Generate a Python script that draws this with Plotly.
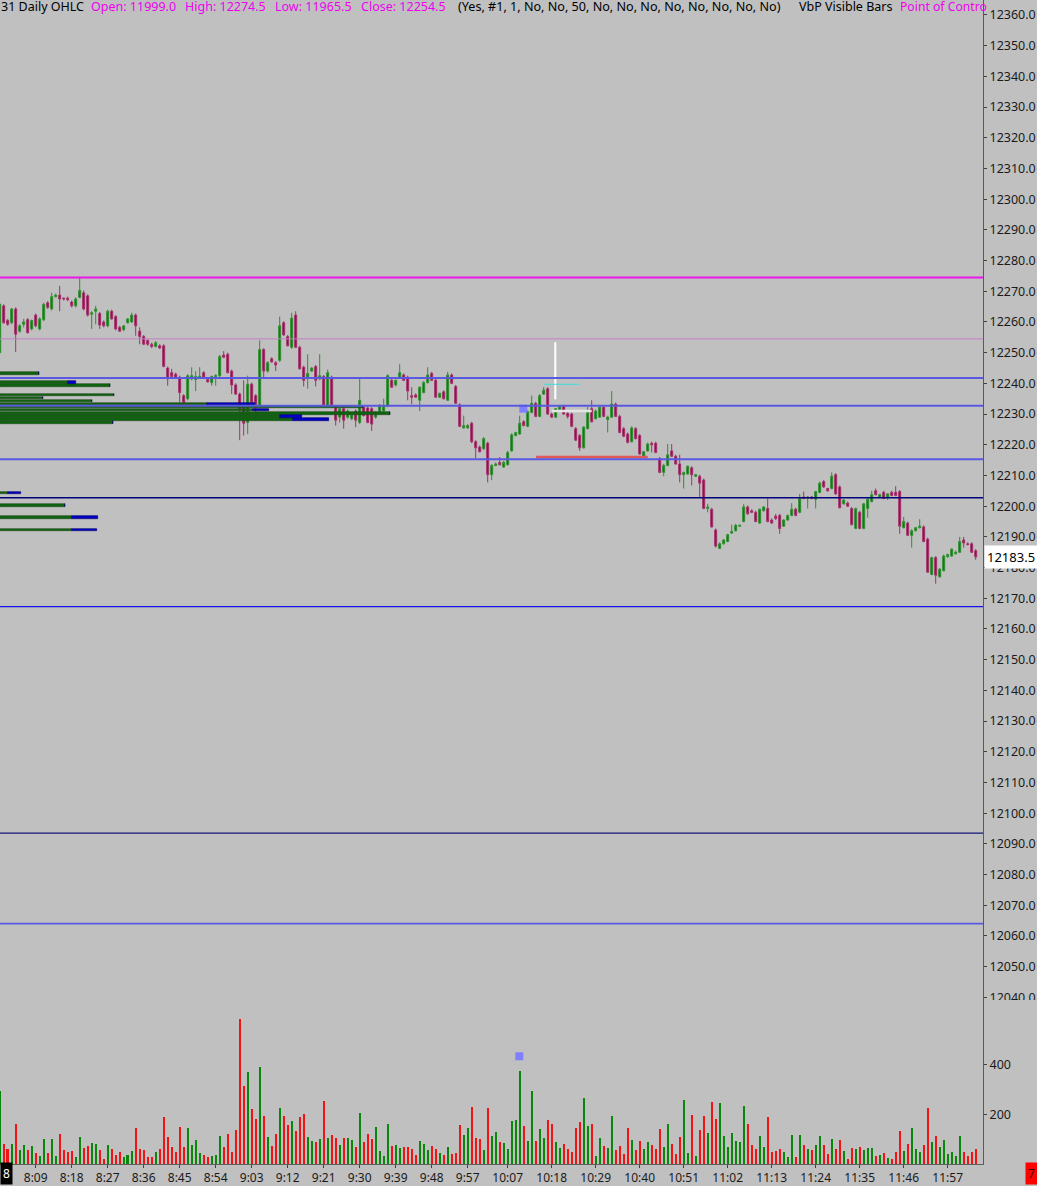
import plotly.graph_objects as go

# ---------------- data ----------------
opens = [12250.0,12265.25,12260.5,12259.75,12264.25,12257.0,12259.25,12260.75,12257.75,12262.25,
12257.75,12260.75,12266.25,12264.25,12268.25,12268.75,12267.75,12267.75,12266.5,12265.25,
12268.0,12269.5,12268.5,12262.5,12263.5,12262.75,12260.0,12258.75,12263.5,12261.75,
12258.25,12257.5,12259.75,12260.0,12262.25,12257.0,12255.25,12254.0,12252.75,12252.0,
12252.25,12252.25,12245.0,12243.5,12243.0,12242.0,12236.0,12235.0,12241.5,12241.25,
12242.0,12243.5,12241.25,12240.25,12242.25,12242.5,12249.25,12249.5,12244.0,12239.5,
12236.5,12232.75,12227.25,12239.75,12236.0,12232.75,12251.0,12244.0,12248.0,12246.75,
12247.5,12259.75,12255.25,12251.75,12262.25,12251.75,12245.25,12242.0,12244.0,12245.5,
12241.5,12242.25,12232.75,12242.0,12232.25,12229.0,12231.75,12229.0,12228.5,12231.0,
12227.25,12232.25,12232.0,12231.75,12229.0,12230.5,12231.0,12232.75,12241.0,12239.5,
12242.0,12242.75,12242.0,12236.0,12236.25,12234.5,12237.0,12240.25,12243.25,12241.0,
12235.5,12237.25,12234.5,12242.75,12239.0,12233.0,12225.5,12225.5,12227.0,12221.0,
12219.25,12218.75,12220.5,12210.25,12213.25,12214.25,12212.75,12213.5,12218.0,12223.0,
12223.5,12227.5,12226.0,12230.5,12233.5,12229.25,12236.5,12238.25,12230.0,12229.0,
12231.5,12232.5,12230.25,12230.0,12225.25,12223.0,12219.0,12225.25,12231.75,12228.5,
12229.0,12232.25,12228.25,12229.0,12233.25,12229.25,12225.25,12223.5,12221.0,12225.25,
12223.0,12216.25,12218.0,12220.5,12220.5,12215.5,12211.0,12213.25,12218.0,12216.25,
12213.75,12210.25,12210.5,12212.5,12209.75,12209.75,12208.5,12199.25,12199.0,12192.25,
12186.25,12187.75,12188.5,12191.25,12192.0,12193.5,12195.0,12199.75,12198.5,12198.0,
12194.5,12198.5,12199.25,12195.5,12196.75,12197.0,12193.5,12195.5,12197.0,12199.0,
12198.0,12203.0,12202.5,12203.0,12202.25,12204.5,12208.0,12205.75,12205.75,12210.25,
12206.25,12200.75,12201.0,12199.25,12192.75,12198.0,12192.75,12199.25,12201.5,12205.0,
12203.0,12204.5,12203.0,12204.5,12204.5,12204.75,12193.0,12194.5,12190.5,12192.0,
12193.0,12193.25,12189.25,12177.75,12183.25,12177.0,12179.0,12183.5,12183.75,12184.5,
12185.0,12189.0,12187.75,12187.75,12185.5]

highs = [12266.25,12265.75,12261.0,12264.5,12264.75,12259.25,12261.0,12261.25,12260.75,12262.75,
12261.5,12266.25,12266.75,12269.5,12269.25,12271.75,12268.0,12268.25,12267.0,12268.0,
12274.5,12270.25,12269.0,12263.5,12265.25,12263.25,12260.5,12264.0,12264.0,12262.25,
12258.75,12259.0,12261.25,12263.0,12262.75,12258.25,12255.75,12254.25,12253.25,12253.75,
12252.75,12252.75,12245.5,12244.75,12243.5,12242.5,12236.5,12243.0,12245.25,12244.0,
12245.25,12244.0,12241.75,12242.5,12243.0,12249.25,12250.5,12250.0,12244.5,12240.0,
12237.0,12241.0,12242.5,12240.25,12236.5,12254.0,12251.5,12247.25,12248.5,12247.25,
12261.75,12260.25,12255.75,12263.0,12263.5,12252.25,12245.75,12249.5,12245.25,12246.0,
12249.5,12242.75,12244.5,12242.5,12232.75,12232.0,12232.25,12231.5,12230.5,12231.5,
12241.5,12232.75,12232.5,12232.25,12231.0,12233.25,12235.0,12243.0,12241.5,12241.25,
12246.25,12243.25,12242.5,12238.75,12236.75,12239.0,12240.75,12245.25,12243.75,12241.5,
12237.0,12237.75,12243.75,12243.25,12239.5,12233.5,12229.5,12226.75,12227.5,12221.5,
12219.75,12222.5,12221.0,12213.75,12214.25,12216.0,12214.75,12218.0,12223.75,12224.25,
12229.5,12228.0,12231.25,12236.0,12234.0,12236.5,12238.75,12238.75,12230.5,12232.0,
12232.75,12233.0,12230.75,12230.5,12225.75,12223.5,12226.0,12232.25,12234.5,12231.5,
12232.5,12232.75,12229.5,12237.5,12233.75,12229.75,12225.75,12224.0,12226.0,12225.75,
12223.5,12218.0,12220.75,12221.0,12221.0,12216.0,12213.75,12220.25,12220.25,12216.75,
12216.75,12211.25,12213.25,12213.0,12210.5,12210.25,12209.0,12200.75,12199.5,12192.75,
12188.25,12189.25,12191.0,12194.0,12194.25,12194.0,12200.75,12200.25,12199.0,12198.5,
12199.25,12200.0,12202.5,12196.0,12197.5,12197.5,12195.75,12197.25,12201.0,12199.5,
12204.0,12204.75,12203.25,12203.25,12205.0,12208.0,12208.5,12206.0,12211.0,12210.75,
12206.75,12202.25,12201.5,12199.75,12199.5,12198.5,12201.0,12202.5,12205.0,12205.75,
12204.0,12205.0,12204.25,12205.0,12206.5,12205.25,12196.5,12195.0,12192.5,12193.25,
12195.75,12193.75,12189.75,12183.5,12183.75,12179.75,12184.25,12184.5,12186.25,12185.5,
12190.0,12190.0,12188.25,12188.25,12186.0]

lows = [12249.75,12259.5,12258.75,12259.25,12250.25,12256.5,12258.25,12256.25,12257.25,12258.25,
12257.25,12260.25,12264.25,12263.75,12268.0,12263.5,12267.0,12266.75,12264.75,12264.75,
12267.75,12263.75,12261.75,12257.75,12259.25,12257.75,12258.25,12258.25,12260.75,12257.25,
12256.75,12257.0,12259.5,12259.75,12255.5,12252.75,12252.5,12252.25,12251.5,12251.75,
12251.25,12245.25,12239.25,12241.5,12241.5,12233.75,12232.25,12234.5,12241.0,12237.5,
12241.5,12241.5,12240.25,12239.25,12239.25,12242.0,12248.25,12243.25,12236.5,12236.25,
12221.5,12223.0,12223.5,12233.5,12229.5,12232.25,12241.5,12243.5,12246.75,12244.0,
12247.0,12255.5,12252.0,12251.25,12251.5,12244.5,12239.0,12238.25,12243.75,12239.0,
12241.0,12232.5,12232.5,12232.5,12226.25,12227.25,12225.25,12228.5,12228.0,12225.75,
12226.75,12229.25,12227.0,12224.5,12228.5,12230.0,12230.5,12232.25,12238.5,12239.0,
12241.5,12240.75,12234.5,12233.25,12235.25,12231.0,12236.75,12240.0,12240.75,12235.25,
12235.25,12234.75,12234.25,12239.75,12233.25,12225.75,12225.25,12225.25,12220.5,12215.5,
12217.5,12218.25,12207.75,12208.5,12213.0,12213.25,12212.5,12213.25,12217.75,12222.75,
12223.25,12226.0,12225.75,12230.25,12229.0,12229.0,12236.25,12229.75,12228.75,12228.75,
12231.25,12229.75,12228.5,12225.75,12221.25,12218.0,12218.75,12225.0,12227.25,12228.25,
12228.75,12229.0,12224.0,12228.75,12229.0,12223.75,12222.5,12220.5,12220.75,12221.75,
12216.75,12216.0,12217.75,12217.5,12217.25,12210.75,12209.75,12213.0,12216.0,12213.5,
12207.75,12205.75,12210.25,12206.75,12209.5,12203.0,12199.0,12198.0,12193.0,12186.5,
12186.0,12187.5,12188.25,12191.0,12191.75,12193.25,12194.75,12197.25,12197.75,12194.75,
12194.25,12198.25,12194.75,12194.25,12195.5,12191.0,12193.25,12195.25,12196.75,12196.75,
12197.75,12202.25,12199.25,12202.25,12199.25,12204.25,12206.0,12204.75,12205.5,12203.75,
12199.25,12200.5,12199.75,12193.75,12192.5,12192.5,12192.5,12196.25,12201.25,12203.5,
12202.75,12202.25,12202.0,12203.25,12203.25,12191.0,12192.75,12190.25,12186.5,12191.75,
12192.75,12188.25,12178.25,12177.5,12174.75,12176.75,12178.75,12183.25,12183.5,12184.25,
12184.75,12186.5,12187.25,12184.75,12182.5]

closes = [12265.75,12259.75,12259.25,12264.25,12256.0,12258.75,12260.0,12256.5,12260.5,12258.75,
12261.0,12265.75,12264.75,12268.25,12268.75,12267.5,12267.5,12267.25,12265.25,12267.5,
12270.25,12264.25,12262.25,12263.0,12264.25,12259.0,12258.75,12263.5,12261.0,12257.75,
12257.0,12258.75,12261.0,12262.25,12258.75,12255.25,12252.75,12252.75,12252.0,12253.25,
12251.5,12245.5,12241.5,12242.25,12241.75,12237.0,12233.75,12242.5,12242.5,12242.25,
12242.25,12242.0,12240.5,12242.25,12242.5,12248.75,12248.5,12243.5,12239.5,12236.5,
12231.75,12227.0,12239.75,12233.75,12232.75,12251.0,12244.0,12246.75,12247.0,12246.0,
12258.75,12255.75,12252.25,12261.25,12251.75,12244.75,12241.0,12243.25,12245.0,12241.0,
12242.5,12232.75,12243.5,12232.75,12228.0,12231.75,12228.0,12231.0,12230.0,12228.0,
12234.5,12229.5,12227.25,12226.75,12230.5,12232.75,12232.75,12242.5,12238.75,12241.0,
12243.5,12241.0,12237.5,12235.5,12235.5,12238.75,12240.25,12242.75,12241.0,12235.5,
12236.75,12235.0,12242.75,12240.0,12233.5,12226.0,12226.25,12226.25,12221.0,12219.0,
12217.75,12222.0,12210.25,12213.25,12213.75,12213.5,12214.25,12217.5,12223.25,12224.0,
12227.0,12226.25,12230.75,12233.5,12229.25,12236.0,12237.75,12230.0,12229.0,12231.75,
12232.5,12230.0,12229.25,12226.0,12221.5,12219.0,12225.75,12230.5,12227.5,12231.0,
12232.25,12229.25,12229.0,12233.25,12229.25,12224.0,12222.75,12220.75,12225.5,12222.0,
12217.0,12217.75,12220.25,12220.0,12217.5,12211.0,12213.25,12216.75,12216.25,12213.75,
12210.25,12211.0,12213.0,12210.25,12210.25,12207.5,12199.25,12199.75,12193.25,12187.0,
12187.75,12189.0,12190.75,12191.75,12193.75,12193.75,12199.75,12197.5,12198.0,12195.0,
12199.0,12199.75,12195.0,12194.5,12196.0,12192.75,12195.5,12197.0,12199.0,12197.0,
12202.5,12202.5,12203.0,12202.5,12204.75,12207.5,12206.25,12205.0,12209.75,12204.0,
12199.5,12202.0,12200.0,12194.0,12199.25,12192.75,12200.75,12202.25,12203.75,12203.75,
12203.75,12202.5,12204.0,12203.5,12203.5,12193.5,12195.0,12190.5,12192.0,12193.0,
12193.5,12188.5,12178.5,12183.25,12177.5,12179.5,12183.75,12184.25,12186.0,12185.0,
12188.5,12188.0,12187.5,12185.0,12183.5]

volumes = [293,80,60,80,160,56,75,56,69,43,
29,97,44,97,29,119,56,47,51,25,
107,64,72,83,79,55,19,75,60,33,
45,25,33,51,143,59,53,27,27,45,
59,187,107,67,47,147,65,143,75,93,
43,33,25,31,33,111,65,119,47,135,
581,311,369,219,179,387,191,105,71,119,
223,189,156,171,131,187,197,107,89,87,
97,249,103,113,103,75,103,103,93,65,
203,87,119,99,147,49,31,159,71,73,
63,65,65,57,35,91,77,53,69,59,
41,35,67,39,41,153,113,143,227,103,
97,55,221,109,125,87,81,59,169,173,
371,151,91,293,91,137,103,175,159,87,
61,79,59,47,143,165,263,151,159,31,
103,71,63,189,55,71,37,143,95,55,
89,57,87,75,59,139,67,159,77,39,
107,253,43,195,31,135,189,121,247,179,
243,109,65,123,89,87,231,157,75,57,
109,67,187,45,49,59,45,25,115,27,
115,73,59,53,75,111,73,39,97,59,
95,49,19,61,59,67,55,63,63,29,
33,41,23,19,47,131,49,79,141,59,
47,73,221,87,109,67,95,37,45,29,
109,45,29,47,59]

bar_index = list(range(len(closes)))  # one-minute bars from 8:00

tick_bars = [9, 18, 27, 36, 45, 54, 63, 72, 81, 90, 99, 108, 117,
             127, 138, 149, 160, 171, 182, 193, 204, 215, 226, 237]
tick_text = ["8:09", "8:18", "8:27", "8:36", "8:45", "8:54", "9:03", "9:12", "9:21",
             "9:30", "9:39", "9:48", "9:57", "10:07", "10:18", "10:29", "10:40", "10:51",
             "11:02", "11:13", "11:24", "11:35", "11:46", "11:57"]

price_ticks = [12040 + 10 * i for i in range(33)]
vol_ticks = [200, 400]

# horizontal study levels
level_prices = [12274.5, 12254.5, 12241.75, 12232.75, 12215.25, 12202.75, 12167.25, 12093.5, 12064.0]
level_colors = ["#e818e8", "#c47ec4", "#5858e0", "#5858e0", "#5858e0", "#00007a",
                "#1414e6", "#14147a", "#5858e0"]
level_widths = [2, 1, 2, 2, 2, 1.3, 1.3, 1.3, 1.8]

# volume by price (visible bars) profile
vbp_price = [12243.25, 12240.25, 12239.25, 12236.25, 12235.25, 12234.25, 12233.25,
             12232.25, 12231.25, 12230.25, 12229.25, 12228.25, 12227.25,
             12204.25, 12200.25, 12196.25, 12192.25]
vbp_green = [39, 68, 110, 114, 43, 92, 207, 363, 253, 390, 280, 293, 113, 8, 65, 72, 72]
vbp_blue = [0, 8, 0, 0, 0, 0, 48, 0, 16, 0, 22, 36, 0, 13, 0, 26, 25]

# signal markers
signal_bar = [130.9]
signal_price = [12231.75]
vol_signal_bar = [129.9]
vol_signal = [432]

# drawn segments (bar index start/end, price start/end)
seg_x = [[138.9, 138.9], [136.1, 144.9], [138.0, 148.0], [134.1, 162.0]]
seg_y = [[12253.4, 12234.8], [12239.7, 12239.7], [12231.0, 12231.0], [12216.0, 12216.0]]
seg_colors = ["#ffffff", "#3cdcdc", "#e4e4e4", "#e05858"]
seg_widths = [2, 1, 2.5, 2.5]

last_price = 12183.5

# ---------------- figure ----------------
BG = "#c0c0c0"
UP_FILL, UP_LINE = "#077a07", "#2f8f2f"
DN_FILL, DN_LINE = "#9a0048", "#a3306a"

W, H = 1037, 1186
PLOT_W, PLOT_H = 983, 1167
split = (PLOT_H - 1003) / PLOT_H

fig = go.Figure()

fig.add_trace(go.Candlestick(
    x=bar_index, open=opens, high=highs, low=lows, close=closes,
    xaxis="x", yaxis="y", whiskerwidth=0,
    increasing=dict(line=dict(color=UP_LINE, width=1), fillcolor=UP_FILL),
    decreasing=dict(line=dict(color=DN_LINE, width=1), fillcolor=DN_FILL),
    hoverinfo="skip", showlegend=False))

# volume profile
fig.add_trace(go.Bar(
    y=vbp_price, x=vbp_green, orientation="h", xaxis="x2", yaxis="y", width=0.8,
    marker=dict(color="#0d640d", line=dict(color="#244a24", width=0.6)),
    hoverinfo="skip", showlegend=False))
fig.add_trace(go.Bar(
    y=vbp_price, x=vbp_blue, base=vbp_green, orientation="h", xaxis="x2", yaxis="y", width=0.8,
    marker=dict(color="#0000c8", line=dict(color="#00006a", width=0.6)),
    hoverinfo="skip", showlegend=False))

# segments
for xs, ys, c, w in zip(seg_x, seg_y, seg_colors, seg_widths):
    fig.add_trace(go.Scatter(x=xs, y=ys, mode="lines", xaxis="x", yaxis="y",
                             line=dict(color=c, width=w), hoverinfo="skip", showlegend=False))

fig.add_trace(go.Scatter(x=signal_bar, y=signal_price, mode="markers", xaxis="x", yaxis="y",
                         marker=dict(symbol="square", size=8, color="#8080ff"),
                         hoverinfo="skip", showlegend=False))

vol_colors = ["#0a870a" if c >= o else "#f01414" for o, c in zip(opens, closes)]
fig.add_trace(go.Bar(x=bar_index, y=volumes, xaxis="x", yaxis="y2", width=0.5,
                     marker=dict(color=vol_colors, line=dict(width=0)),
                     hoverinfo="skip", showlegend=False))
fig.add_trace(go.Scatter(x=vol_signal_bar, y=vol_signal, mode="markers", xaxis="x", yaxis="y2",
                         marker=dict(symbol="square", size=8, color="#8080ff"),
                         hoverinfo="skip", showlegend=False))

shapes = []
for p, c, w in zip(level_prices, level_colors, level_widths):
    shapes.append(dict(type="line", xref="paper", x0=0, x1=1, yref="y", y0=p, y1=p,
                       line=dict(color=c, width=w), layer="above"))
# mask lower half of the clipped 12040 label (pane boundary)
shapes.append(dict(type="rect", xref="paper", x0=984 / PLOT_W, x1=W / PLOT_W,
                   yref="paper", y0=(PLOT_H - 1013) / PLOT_H, y1=(PLOT_H - 1002.5) / PLOT_H,
                   fillcolor=BG, line=dict(width=0), layer="above"))

FONT = "Noto Sans"
ann = []
hy = (PLOT_H - 7) / PLOT_H
header = [("31 Daily OHLC", 0, "#000000", 12.5),
          ("Open: 11999.0", 90, "#ee00ee", 12.5),
          ("High: 12274.5", 184, "#ee00ee", 12.5),
          ("Low: 11965.5", 274, "#ee00ee", 12.5),
          ("Close: 12254.5", 360, "#ee00ee", 12.5),
          ("(Yes, #1, 1, No, No, 50, No, No, No, No, No, No, No, No)", 457, "#000000", 12.6),
          ("VbP Visible Bars", 798, "#000000", 12.5),
          ("Point of Contro", 899, "#ee00ee", 12.2)]
for txt, x0, col, sz in header:
    ann.append(dict(text=txt, xref="paper", yref="paper", x=(x0 - 1) / PLOT_W, y=hy,
                    xanchor="left", yanchor="middle", showarrow=False,
                    font=dict(family=FONT, size=sz, color=col)))
ann.append(dict(text=f"{last_price:.1f}", xref="paper", yref="y", x=984 / PLOT_W, y=last_price,
                xanchor="left", yanchor="middle", showarrow=False, bgcolor="#ffffff",
                borderpad=2, font=dict(family=FONT, size=13, color="#000000")))
ann.append(dict(text="8", xref="paper", yref="paper", x=0, y=-9.5 / PLOT_H,
                xanchor="left", yanchor="middle", showarrow=False, bgcolor="#000000",
                borderpad=2, font=dict(family=FONT, size=12, color="#ffffff")))
ann.append(dict(text="7", xref="paper", yref="paper", x=1031 / PLOT_W, y=-9.5 / PLOT_H,
                xanchor="center", yanchor="middle", showarrow=False, bgcolor="#ff0000",
                borderpad=2, font=dict(family=FONT, size=12, color="#300000")))

price_top = 12360 + 15 / 3.078
price_bot = price_top - 1003 / 3.078

fig.update_layout(
    width=W, height=H, margin=dict(l=0, r=W - PLOT_W, t=0, b=H - PLOT_H),
    paper_bgcolor=BG, plot_bgcolor=BG, barmode="overlay", bargap=0,
    showlegend=False, hovermode=False,
    font=dict(family=FONT, size=12, color="#1a1a1a"),
    xaxis=dict(domain=[0, 1], range=[0.075, 245.825], anchor="y2",
               tickmode="array", tickvals=tick_bars, ticktext=tick_text,
               ticks="outside", ticklen=3, tickcolor="#404040",
               tickfont=dict(family=FONT, size=12, color="#1a1a1a"),
               showgrid=False, zeroline=False, showline=True, linecolor="#606060",
               linewidth=1, rangeslider=dict(visible=False), fixedrange=True),
    xaxis2=dict(domain=[0, 1], range=[0, PLOT_W], overlaying="x", anchor="y",
                visible=False, fixedrange=True),
    yaxis=dict(domain=[split, 1], range=[price_bot, price_top], side="right", anchor="x",
               tickmode="array", tickvals=price_ticks,
               ticktext=[f"{v:.1f}" for v in price_ticks],
               ticks="outside", ticklen=3, tickcolor="#404040",
               tickfont=dict(family=FONT, size=12.5, color="#1a1a1a"),
               showgrid=False, zeroline=False, showline=True, linecolor="#5a5a5a",
               linewidth=1, fixedrange=True),
    yaxis2=dict(domain=[0, split], range=[0, 656], side="right", anchor="x",
                tickmode="array", tickvals=vol_ticks, ticktext=[str(v) for v in vol_ticks],
                ticks="outside", ticklen=3, tickcolor="#404040",
                tickfont=dict(family=FONT, size=12.5, color="#1a1a1a"),
                showgrid=False, zeroline=False, showline=True, linecolor="#5a5a5a",
                linewidth=1, fixedrange=True),
    shapes=shapes, annotations=ann,
)

fig.write_html("out.html", config={"displayModeBar": False},
               post_script="document.body.style.margin='0';document.body.style.overflow='hidden';")
